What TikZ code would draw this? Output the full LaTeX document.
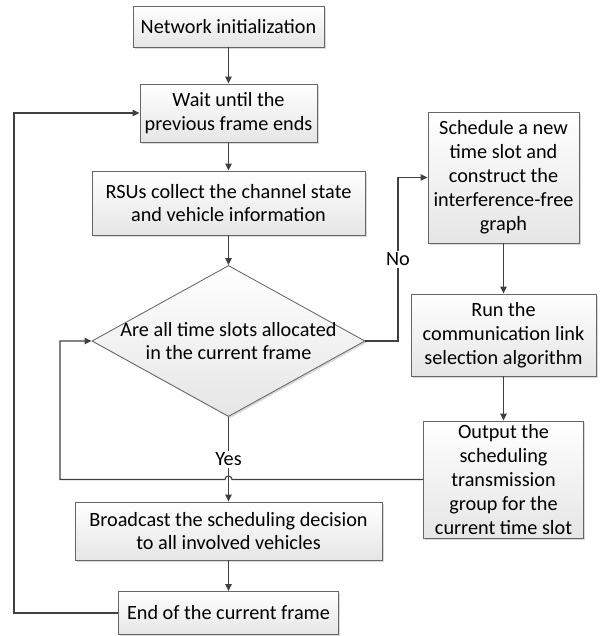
\documentclass[tikz,border=0pt]{standalone}
\usepackage{fontspec}
\setmainfont{Carlito}
\usetikzlibrary{shapes.geometric,arrows.meta,shadows,calc}

\begin{document}
\begin{tikzpicture}[x=0.025cm,y=-0.025cm,
  font=\fontsize{14.4}{17}\selectfont,
  box/.style={draw=black!60, line width=0.6pt, top color=white, bottom color=black!10,
    drop shadow={shadow xshift=1.2pt,shadow yshift=-1.2pt,opacity=0.3},
    align=center, inner xsep=2pt, inner ysep=0pt},
  dec/.style={box, diamond, inner sep=0pt},
  line/.style={draw=black!75, line width=0.8pt},
  arr/.style={line, -{Triangle[length=5pt,width=4.6pt]}},
  lbl/.style={fill=white, inner sep=1.5pt}]
\useasboundingbox (0,0) rectangle (603,636);
%\draw (0,0) rectangle (603,636);

\draw (228.5,26.5) node[box, minimum width=4.775cm, minimum height=1.025cm] (init) {Network initialization};
\draw (228.5,113) node[box, minimum width=4.425cm, minimum height=1.45cm] (wait) {Wait until the\\previous frame ends};
\draw (228.5,203) node[box, minimum width=6.825cm, minimum height=1.6cm] (rsu) {RSUs collect the channel state\\and vehicle information};
\draw (228.5,341) node[dec, minimum width=6.825cm, minimum height=3.775cm] (dec) {};
\draw (dec.center) node[align=center] (dectext) {Are all time slots allocated\\in the current frame};
\draw (503.5,177.5) node[box, minimum width=3.775cm, minimum height=3.275cm] (sched) {Schedule a new\\time slot and\\construct the\\interference-free\\graph};
\draw (503.5,335) node[box, minimum width=4.625cm, minimum height=2.05cm] (run) {Run the\\communication link\\selection algorithm};
\draw (503.5,479.5) node[box, minimum width=4cm, minimum height=2.925cm] (out) {Output the\\scheduling\\transmission\\group for the\\current time slot};
\draw (228.5,531) node[box, minimum width=7.675cm, minimum height=1.45cm] (bcast) {Broadcast the scheduling decision\\to all involved vehicles};
\draw (228.5,613) node[box, minimum width=5.5cm, minimum height=1.075cm] (end) {End of the current frame};

\coordinate (lft) at (14,0);
\coordinate (inl) at (60,0);
\coordinate (nox) at (398,0);

\draw[arr] (init) -- (wait);
\draw[arr] (wait) -- (rsu);
\draw[arr] (rsu) -- (dec);
\draw[arr] (dec.east) -- (dec.east -| nox) -- node[lbl] {No} (nox |- sched.west) -- (sched.west);
\draw[arr] (sched) -- (run);
\draw[arr] (run) -- (out);
\draw[arr] (dec.south) -- node[lbl] {Yes} (bcast.north);
\draw[arr] (out.west) -- ($(dec.south |- out.west)+(2.5pt,0)$) arc[start angle=0,end angle=180,radius=2.5pt]
  -- (inl |- out.west) -- (inl |- dec.west) -- (dec.west);
\draw[arr] (bcast) -- (end);
\draw[arr] (end.west) -- (lft |- end.west) -- (lft |- wait.west) -- (wait.west);
\end{tikzpicture}
\end{document}
